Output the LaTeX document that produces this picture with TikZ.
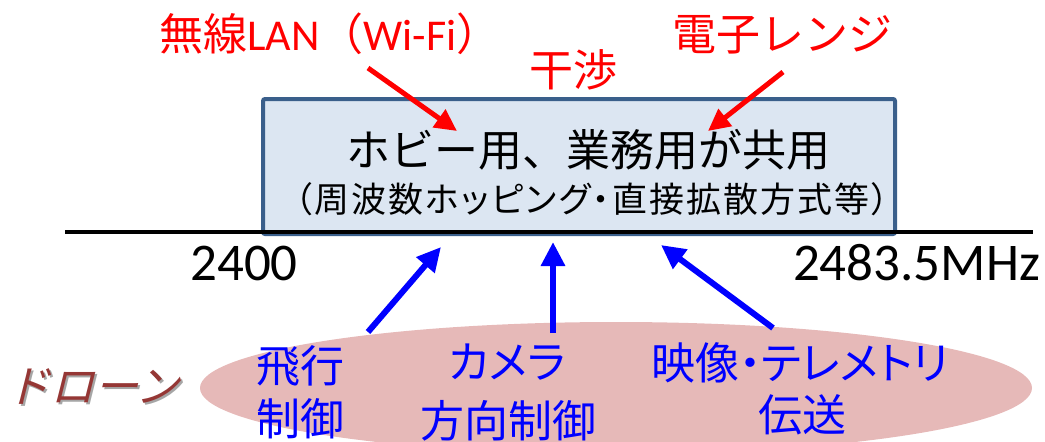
\documentclass[tikz,border=0pt]{standalone}
\usepackage{fontspec}
\usetikzlibrary{arrows.meta,shapes.geometric}
\setmainfont{Noto Sans CJK JP}
\newfontfamily\jpp[RawFeature=+palt]{Noto Sans CJK JP}
\newfontfamily\jpsub[RawFeature=+palt,LetterSpace=6]{Noto Sans CJK JP}
\newfontfamily\lat{Carlito}
\newfontfamily\dronefont[FakeSlant=0.25]{Noto Sans CJK JP}
\definecolor{boxfill}{HTML}{DCE6F2}
\definecolor{boxline}{HTML}{3A5F8B}
\definecolor{ellfill}{HTML}{E6B9B8}
\definecolor{dronecol}{HTML}{953735}
\definecolor{myred}{HTML}{FF0000}
\definecolor{myblue}{HTML}{0000FF}
\tikzset{
  txt/.style={inner sep=0pt, outer sep=0pt, anchor=base},
  redlabel/.style={txt, text=myred, font=\fontsize{44}{52}\selectfont},
  bluelabel/.style={txt, text=myblue, font=\jpp\fontsize{44}{52}\selectfont},
  redarrow/.style={draw=myred, line width=5pt, -{Triangle[length=22pt,width=21pt]}},
  bluearrow/.style={draw=myblue, line width=6pt, -{Triangle[length=24pt,width=23pt]}},
  freqlabel/.style={txt, font=\lat\fontsize{53}{60}\selectfont},
}
\begin{document}
\begin{tikzpicture}[x=1pt,y=-1pt]
\useasboundingbox (0,0) rectangle (1045,442);
% band box
\node[draw=boxline, fill=boxfill, line width=4pt, rounded corners=2pt,
      minimum width=632pt, minimum height=135pt, inner sep=0pt] (band) at (579,166.5) {};
% axis line
\coordinate (axL) at (65,232);
\coordinate (axR) at (1033,232);
\draw[line width=4pt] (axL) -- (axR);
% drone ellipse
\node[ellipse, fill=ellfill, minimum width=832pt, minimum height=132pt, inner sep=0pt] (drone) at (616,388) {};
% texts in box
\node[txt, font=\fontsize{44}{52}\selectfont] (main) at (588,166) {ホビー用、業務用が共用};
\node[txt, font=\jpsub\fontsize{35}{40}\selectfont] (sub) at (592,212) {（周波数ホッピング・直接拡散方式等）};
% frequency labels
\node[freqlabel] (f1) at (244,280) {2400};
\node[freqlabel, anchor=base east] (f2) at (1040,280) {2483.5MHz};
% interference labels
\node[redlabel] (wifi) at (330,50) {無線{\lat LAN}（{\lat Wi-Fi}）};
\node[redlabel] (kansho) at (573,86) {干渉};
\node[redlabel] (mw) at (782,50) {電子レンジ};
% drone label with shadow
\node[txt, text=black!35, font=\dronefont\fontsize{44}{52}\selectfont] (droneshadow) at (95,404) {ドローン};
\node[txt, text=dronecol, font=\dronefont\fontsize{44}{52}\selectfont] (dronelabel) at (93,402) {ドローン};
% blue labels
\node[bluelabel] (fly1) at (300,382) {飛行};
\node[bluelabel] (fly2) at (300,435) {制御};
\node[bluelabel] (cam1) at (507,378) {カメラ};
\node[bluelabel] (cam2) at (508,437) {方向制御};
\node[bluelabel] (vid1) at (800,379) {映像・テレメトリ};
\node[bluelabel] (vid2) at (802,431) {伝送};
% arrow end points
\coordinate (r1s) at (368,68);
\coordinate (r1e) at (457,131);
\coordinate (r2s) at (783,72);
\coordinate (r2e) at (708,131);
\coordinate (b1s) at (368,332);
\coordinate (b1e) at (441,247);
\coordinate (b2s) at (553,333);
\coordinate (b2e) at (553,242);
\coordinate (b3s) at (773,328);
\coordinate (b3e) at (661,245);
\draw[redarrow] (r1s) -- (r1e);
\draw[redarrow] (r2s) -- (r2e);
\draw[bluearrow] (b1s) -- (b1e);
\draw[bluearrow] (b2s) -- (b2e);
\draw[bluearrow] (b3s) -- (b3e);
\end{tikzpicture}
\end{document}
